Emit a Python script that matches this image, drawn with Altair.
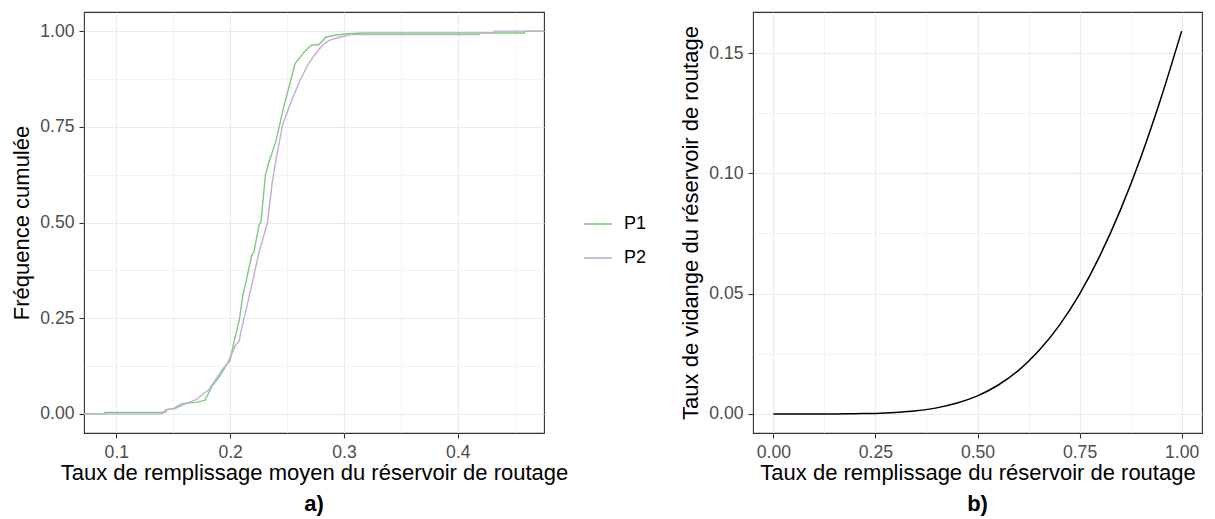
import altair as alt
import pandas as pd

# ---------------- data ----------------
# Panel a) : empirical cumulative frequency, breakpoints of the step curves
p1_x = [0.000, 0.090, 0.090, 0.1435, 0.1435, 0.150, 0.157, 0.162, 0.170, 0.1757,
        0.178, 0.184, 0.190, 0.196, 0.200, 0.2035, 0.208, 0.211, 0.215, 0.219,
        0.221, 0.2255, 0.227, 0.231, 0.234, 0.240, 0.246, 0.252, 0.257, 0.265,
        0.271, 0.278, 0.284, 0.293, 0.303, 0.318, 0.4586, 0.4586, 0.600]
p1_y = [0.000, 0.000, 0.004, 0.004, 0.011, 0.013, 0.026, 0.028, 0.030, 0.034,
        0.036, 0.072, 0.095, 0.124, 0.140, 0.190, 0.245, 0.307, 0.360, 0.415,
        0.424, 0.495, 0.500, 0.624, 0.658, 0.710, 0.789, 0.858, 0.915, 0.945,
        0.963, 0.965, 0.984, 0.990, 0.993, 0.995, 0.995, 1.000, 1.000]

p2_x = [0.000, 0.1405, 0.1405, 0.1464, 0.151, 0.158, 0.170, 0.1815, 0.192, 0.1977,
        0.205, 0.208, 0.2094, 0.2123, 0.2167, 0.2255, 0.2328, 0.237, 0.240, 0.246,
        0.2534, 0.2607, 0.268, 0.274, 0.281, 0.287, 0.296, 0.306, 0.419, 0.419,
        0.432, 0.432, 0.600]
p2_y = [0.000, 0.000, 0.004, 0.013, 0.013, 0.023, 0.037, 0.064, 0.111, 0.133,
        0.181, 0.190, 0.215, 0.250, 0.307, 0.424, 0.500, 0.606, 0.659, 0.755,
        0.815, 0.867, 0.911, 0.937, 0.963, 0.976, 0.984, 0.991, 0.991, 0.9955,
        0.9955, 1.000, 1.000]

series_names = ["P1", "P2"]
series_colors = ["#7fc97f", "#beaed4"]

# Panel b) : emptying rate vs filling rate of the routing reservoir
fill_rate = [0.00, 0.05, 0.10, 0.15, 0.20, 0.25, 0.30, 0.35, 0.40, 0.45, 0.50,
             0.55, 0.60, 0.65, 0.70, 0.75, 0.80, 0.85, 0.90, 0.95, 1.00]
empty_rate = [0.0000, 0.0000, 0.0000, 0.0000, 0.0001, 0.0002, 0.0006, 0.0013,
              0.0025, 0.0045, 0.0075, 0.0119, 0.0180, 0.0262, 0.0367, 0.0498,
              0.0658, 0.0847, 0.1066, 0.1315, 0.1591]

# ---------------- tables ----------------
rows = []
for name, xs, ys in [("P1", p1_x, p1_y), ("P2", p2_x, p2_y)]:
    for i, (xv, yv) in enumerate(zip(xs, ys)):
        rows.append({"x": xv, "y": yv, "serie": name, "idx": i})
ecdf_df = pd.DataFrame(rows)
curve_df = pd.DataFrame({"x": fill_rate, "y": empty_rate})

FONT = "Liberation Sans"
GRID = "#ebebeb"


def axis(title, values, major_mult, fmt, orient):
    test = f"abs(datum.value*{major_mult} - round(datum.value*{major_mult})) < 1e-6"
    return alt.Axis(
        title=title,
        values=values,
        format=fmt,
        orient=orient,
        labelExpr=f"{test} ? datum.label : ''",
        gridWidth={"condition": {"test": test, "value": 1.1}, "value": 0.55},
        tickOpacity={"condition": {"test": test, "value": 1}, "value": 0},
        labelFlush=False,
        labelOverlap=False,
        titlePadding=2 if orient == "bottom" else 6,
    )


left = alt.Chart(ecdf_df).mark_line(strokeWidth=1.4, clip=True).encode(
    x=alt.X("x:Q",
            scale=alt.Scale(domain=[0.0716, 0.4757], nice=False, zero=False),
            axis=axis("Taux de remplissage moyen du réservoir de routage",
                      [0.1, 0.15, 0.2, 0.25, 0.3, 0.35, 0.4, 0.45], 10, ".1f", "bottom")),
    y=alt.Y("y:Q",
            scale=alt.Scale(domain=[-0.05, 1.05], nice=False, zero=False),
            axis=axis("Fréquence cumulée",
                      [0, 0.125, 0.25, 0.375, 0.5, 0.625, 0.75, 0.875, 1.0], 4, ".2f", "left")),
    color=alt.Color("serie:N",
                    scale=alt.Scale(domain=series_names, range=series_colors),
                    title=None,
                    legend=alt.Legend(orient="none", legendX=499, legendY=197,
                                      symbolType="stroke", symbolSize=784,
                                      symbolStrokeWidth=1.6, labelFontSize=18,
                                      labelColor="#000000", labelFont=FONT,
                                      labelOffset=11, rowPadding=10)),
    order=alt.Order("idx:Q"),
).properties(width=460, height=421,
             title=alt.TitleParams("a)", orient="bottom", fontWeight="bold",
                                   fontSize=22, font=FONT, offset=10))

right = alt.Chart(curve_df).mark_line(strokeWidth=1.5, color="#000000",
                                      interpolate="monotone").encode(
    x=alt.X("x:Q",
            scale=alt.Scale(domain=[-0.05, 1.05], nice=False, zero=False),
            axis=axis("Taux de remplissage du réservoir de routage",
                      [0, 0.125, 0.25, 0.375, 0.5, 0.625, 0.75, 0.875, 1.0], 4, ".2f", "bottom")),
    y=alt.Y("y:Q",
            scale=alt.Scale(domain=[-0.00795, 0.16706], nice=False, zero=False),
            axis=axis("Taux de vidange du réservoir de routage",
                      [0, 0.025, 0.05, 0.075, 0.1, 0.125, 0.15], 20, ".2f", "left")),
).properties(width=449, height=421,
             title=alt.TitleParams("b)", orient="bottom", fontWeight="bold",
                                   fontSize=22, font=FONT, offset=10))

chart = alt.hconcat(left, right, spacing=110).properties(
    padding={"left": 2, "top": 3, "right": 0, "bottom": 0},
    background="#ffffff",
).configure_view(
    stroke="#333333", strokeWidth=1.1,
).configure_axis(
    domain=False,
    grid=True,
    gridColor=GRID,
    tickColor="#333333",
    tickSize=5,
    tickWidth=1.1,
    labelPadding=5,
    labelColor="#4d4d4d",
    labelFont=FONT,
    labelFontSize=17.6,
    titleFont=FONT,
    titleFontSize=22,
    titleFontWeight="normal",
    titleColor="#000000",
).configure_title(color="#000000")

chart.save("out.html", embed_options={"renderer": "svg", "actions": False})
